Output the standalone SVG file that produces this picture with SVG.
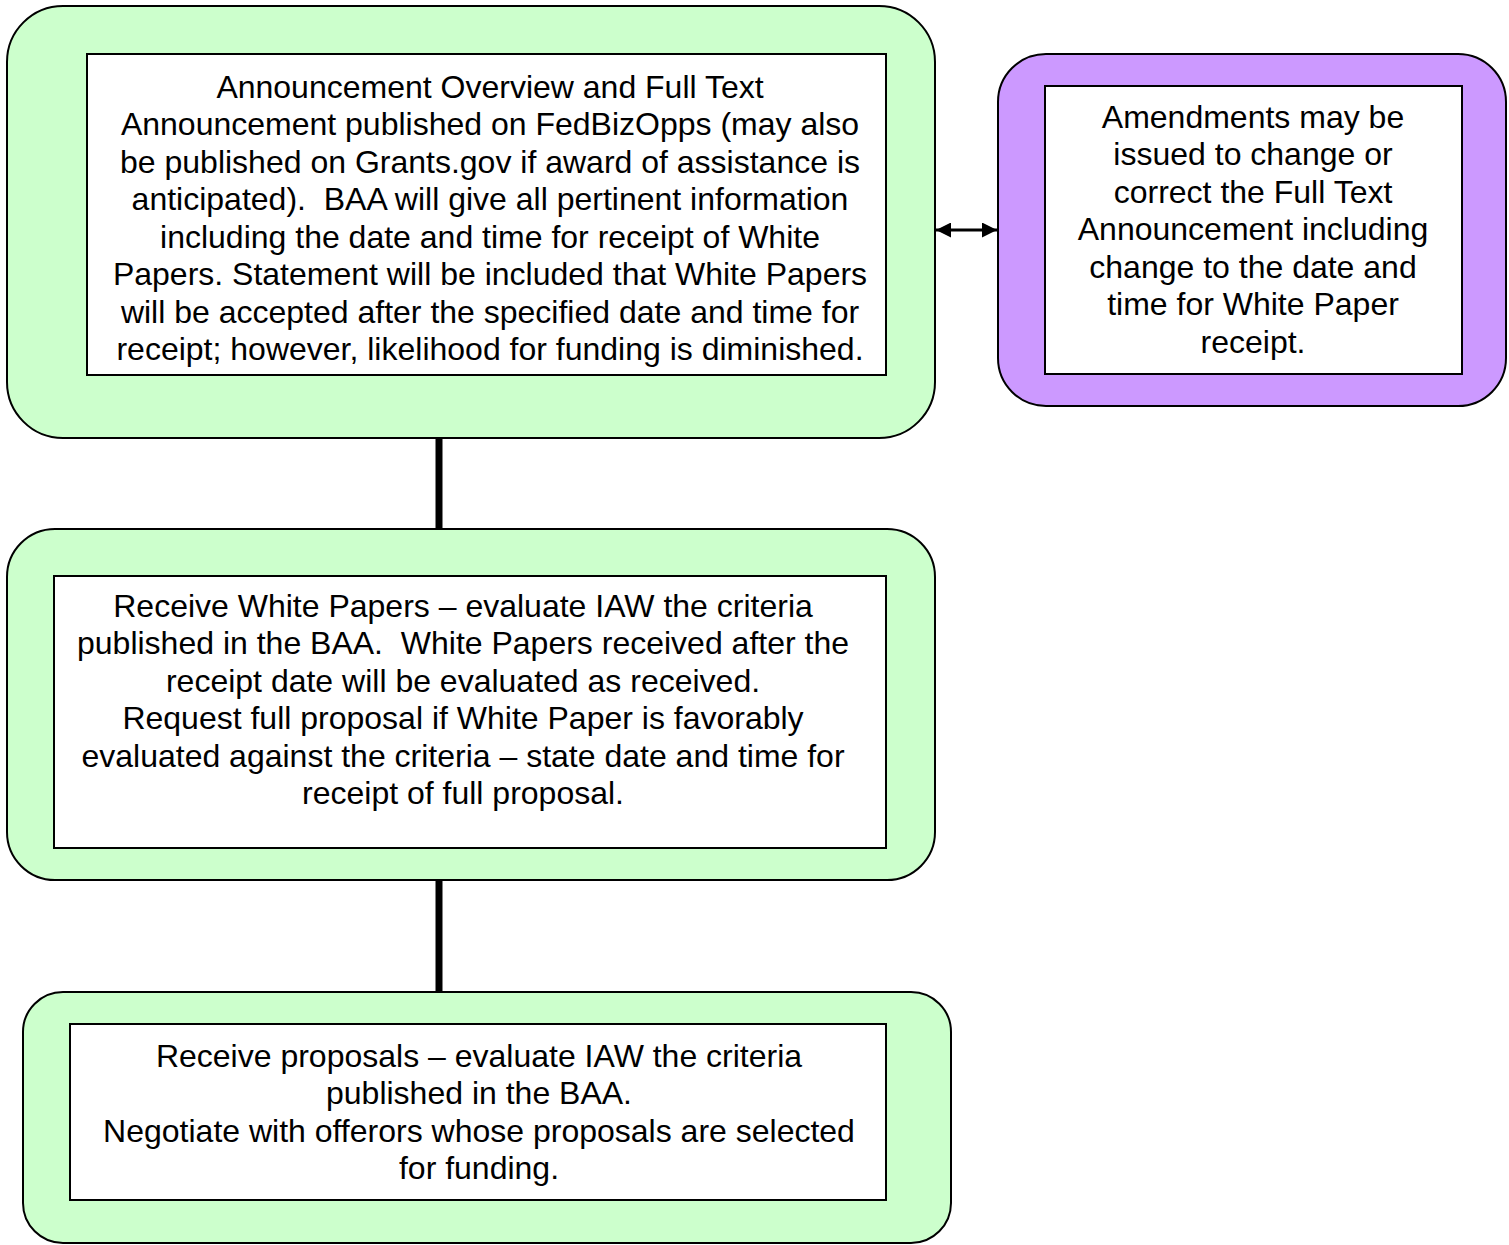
<svg xmlns="http://www.w3.org/2000/svg" width="1509" height="1245" viewBox="0 0 1509 1245">
<style>
.outer{stroke:#000;stroke-width:2}
.g{fill:#ccffcc}
.p{fill:#cc99ff}
.inner{fill:#fff;stroke:#000;stroke-width:2}
.t{font-family:"Liberation Sans",Arial,sans-serif;font-size:32px;fill:#000;text-anchor:middle;white-space:pre}
.conn{stroke:#000;stroke-width:7;fill:none}
</style>
<defs>
<marker id="ah" viewBox="0 0 10 10" refX="10" refY="5" markerWidth="5" markerHeight="5" orient="auto-start-reverse" markerUnits="strokeWidth">
<path d="M0,0 L10,5 L0,10 z" fill="#000"/>
</marker>
</defs>
<g id="connectors">
<line class="conn" x1="439" y1="438" x2="439" y2="529"/>
<line class="conn" x1="439" y1="880" x2="439" y2="992"/>
<line x1="936" y1="230" x2="997" y2="230" stroke="#000" stroke-width="3" marker-start="url(#ah)" marker-end="url(#ah)"/>
</g>
<g id="node1">
<rect class="outer g" x="7" y="6" width="928" height="432" rx="56" ry="56"/>
<rect class="inner" x="87" y="54" width="799" height="321"/>
<text class="t" x="490" y="97.5">Announcement Overview and Full Text</text>
<text class="t" x="490" y="135">Announcement published on FedBizOpps (may also</text>
<text class="t" x="490" y="172.5">be published on Grants.gov if award of assistance is</text>
<text class="t" x="490" y="210">anticipated).  BAA will give all pertinent information</text>
<text class="t" x="490" y="247.5">including the date and time for receipt of White</text>
<text class="t" x="490" y="285">Papers. Statement will be included that White Papers</text>
<text class="t" x="490" y="322.5">will be accepted after the specified date and time for</text>
<text class="t" x="490" y="360">receipt; however, likelihood for funding is diminished.</text>
</g>
<g id="node2">
<rect class="outer p" x="998" y="54" width="508" height="352" rx="48" ry="48"/>
<rect class="inner" x="1045" y="86" width="417" height="288"/>
<text class="t" x="1253" y="127.5">Amendments may be</text>
<text class="t" x="1253" y="165">issued to change or</text>
<text class="t" x="1253" y="202.5">correct the Full Text</text>
<text class="t" x="1253" y="240">Announcement including</text>
<text class="t" x="1253" y="277.5">change to the date and</text>
<text class="t" x="1253" y="315">time for White Paper</text>
<text class="t" x="1253" y="352.5">receipt.</text>
</g>
<g id="node3">
<rect class="outer g" x="7" y="529" width="928" height="351" rx="48" ry="48"/>
<rect class="inner" x="54" y="576" width="832" height="272"/>
<text class="t" x="463" y="616.5">Receive White Papers – evaluate IAW the criteria</text>
<text class="t" x="463" y="654">published in the BAA.  White Papers received after the</text>
<text class="t" x="463" y="691.5">receipt date will be evaluated as received.</text>
<text class="t" x="463" y="729">Request full proposal if White Paper is favorably</text>
<text class="t" x="463" y="766.5">evaluated against the criteria – state date and time for</text>
<text class="t" x="463" y="804">receipt of full proposal.</text>
</g>
<g id="node4">
<rect class="outer g" x="23" y="992" width="928" height="251" rx="40" ry="40"/>
<rect class="inner" x="70" y="1024" width="816" height="176"/>
<text class="t" x="479" y="1066.5">Receive proposals – evaluate IAW the criteria</text>
<text class="t" x="479" y="1104">published in the BAA.</text>
<text class="t" x="479" y="1141.5">Negotiate with offerors whose proposals are selected</text>
<text class="t" x="479" y="1179">for funding.</text>
</g>
</svg>
